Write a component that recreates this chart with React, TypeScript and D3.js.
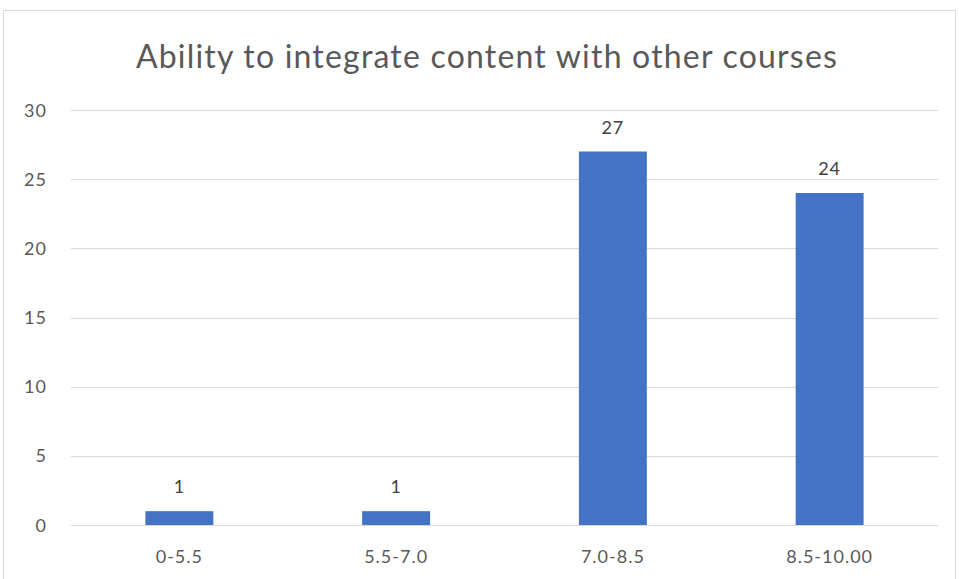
import { useEffect, useRef } from "react"
import * as d3 from "d3"

const categories = ["0-5.5", "5.5-7.0", "7.0-8.5", "8.5-10.00"]
const counts = [1, 1, 27, 24]
const yTicks = [0, 5, 10, 15, 20, 25, 30]
const title = "Ability to integrate content with other courses"

export default function App() {
  const ref = useRef<SVGSVGElement>(null)

  useEffect(() => {
    const width = 959
    const height = 579
    const margin = { top: 110, left: 71, right: 21, bottom: 54 }
    const font = "Lato, 'Open Sans', sans-serif"

    const svg = d3.select(ref.current)
    svg.selectAll("*").remove()
    svg.attr("width", width).attr("height", height)

    // chart border
    svg.append("rect")
      .attr("x", 3.5).attr("y", 10.5)
      .attr("width", 952).attr("height", 590)
      .attr("fill", "#fff")
      .attr("stroke", "#d9d9d9")

    svg.append("text")
      .attr("x", 487).attr("y", 68)
      .attr("text-anchor", "middle")
      .attr("font-family", font)
      .attr("font-size", 32)
      .attr("letter-spacing", 1.2)
      .attr("fill", "#595959")
      .text(title)

    const x = d3.scaleBand<string>()
      .domain(categories)
      .range([margin.left, width - margin.right])
      .paddingInner(0.6865)
      .paddingOuter(0.6865 / 2)

    const y = d3.scaleLinear()
      .domain([0, 30])
      .range([height - margin.bottom, margin.top])

    const g = svg.append("g")

    g.selectAll("line.grid")
      .data(yTicks)
      .join("line")
      .attr("class", "grid")
      .attr("x1", margin.left).attr("x2", width - margin.right)
      .attr("y1", d => Math.round(y(d)) + 0.5).attr("y2", d => Math.round(y(d)) + 0.5)
      .attr("stroke", "#d9d9d9")
      .attr("stroke-width", 1)

    g.selectAll("text.ytick")
      .data(yTicks)
      .join("text")
      .attr("class", "ytick")
      .attr("x", 47).attr("y", d => y(d) + 6.5)
      .attr("text-anchor", "end")
      .attr("font-family", font)
      .attr("font-size", 18)
      .attr("letter-spacing", 1)
      .attr("fill", "#595959")
      .text(d => d)

    g.selectAll("rect.bar")
      .data(counts)
      .join("rect")
      .attr("class", "bar")
      .attr("x", (_, i) => x(categories[i])!)
      .attr("width", x.bandwidth())
      .attr("y", d => y(d))
      .attr("height", d => y(0) - y(d))
      .attr("fill", "#4472c4")

    g.selectAll("text.label")
      .data(counts)
      .join("text")
      .attr("class", "label")
      .attr("x", (_, i) => x(categories[i])! + x.bandwidth() / 2)
      .attr("y", d => y(d) - 18)
      .attr("text-anchor", "middle")
      .attr("font-family", font)
      .attr("font-size", 18)
      .attr("letter-spacing", 1)
      .attr("fill", "#404040")
      .text(d => d)

    g.selectAll("text.xtick")
      .data(categories)
      .join("text")
      .attr("class", "xtick")
      .attr("x", d => x(d)! + x.bandwidth() / 2)
      .attr("y", height - margin.bottom + 38)
      .attr("text-anchor", "middle")
      .attr("font-family", font)
      .attr("font-size", 18)
      .attr("letter-spacing", 1)
      .attr("fill", "#595959")
      .text(d => d)
  }, [])

  return <svg ref={ref} style={{ position: "absolute", left: 0, top: 0 }} />
}
